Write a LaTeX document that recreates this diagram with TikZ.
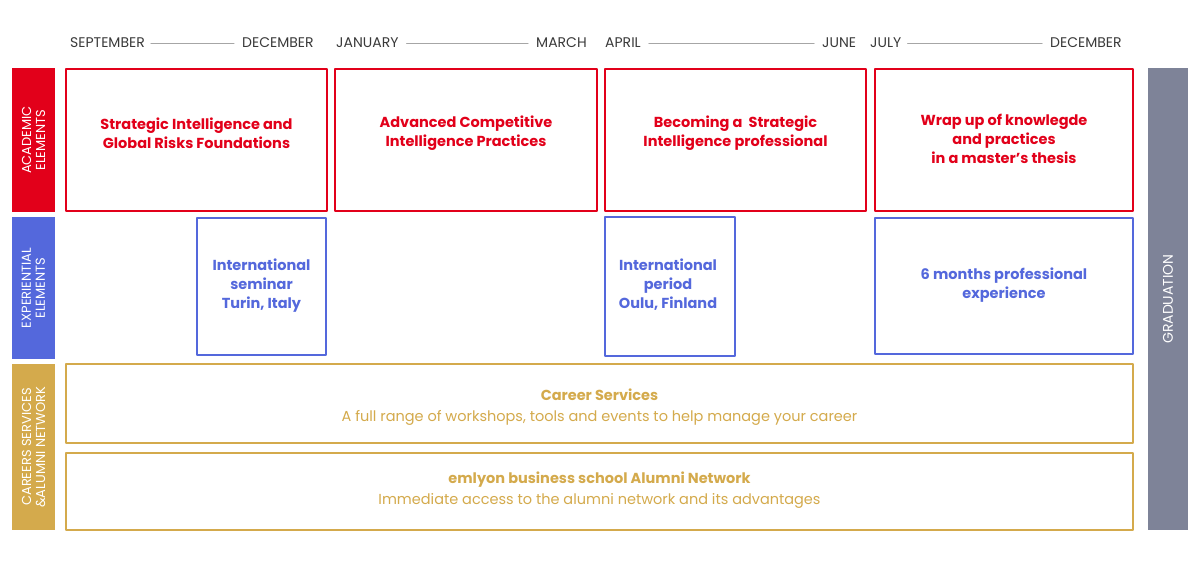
\documentclass[tikz,border=0pt]{standalone}
\usepackage{fontspec}
\setmainfont{Poppins}
\usetikzlibrary{positioning}
\definecolor{acared}{HTML}{E2001A}
\definecolor{expblue}{HTML}{5468DC}
\definecolor{cargold}{HTML}{D4AA4C}
\definecolor{gradgray}{HTML}{7E8398}
\definecolor{monthgray}{HTML}{3A3A3A}
\tikzset{
  month/.style={text=monthgray,font=\fontsize{14}{16}\selectfont,inner sep=0pt},
  monthline/.style={draw=gray!70,line width=1pt},
  acabox/.style={draw=acared,line width=1.5pt},
  expbox/.style={draw=expblue,line width=1.5pt},
  carbox/.style={draw=cargold,line width=1.5pt},
  acatext/.style={text=acared,font=\fontsize{14.5}{19}\selectfont\bfseries,align=center},
  exptext/.style={text=expblue,font=\fontsize{14.5}{19}\selectfont\bfseries,align=center},
  cartext/.style={text=cargold,font=\fontsize{14.5}{21}\selectfont,align=center},
  sidetext/.style={text=white,font=\fontsize{13}{14}\selectfont,align=center,rotate=90}
}
\begin{document}
\begin{tikzpicture}[line cap=round,line join=round,x=1pt,y=-1pt]
      \useasboundingbox[fill=white] (0,0) rectangle (1200,563);
      % months
      \node[month,anchor=west] (sep) at (70,43) {SEPTEMBER};
      \node[month,anchor=west] (dec1) at (242,43) {DECEMBER};
      \node[month,anchor=west] (jan) at (336,43) {JANUARY};
      \node[month,anchor=west] (mar) at (536,43) {MARCH};
      \node[month,anchor=west] (apr) at (605,43) {APRIL};
      \node[month,anchor=west] (jun) at (822,43) {JUNE};
      \node[month,anchor=west] (jul) at (870,43) {JULY};
      \node[month,anchor=west] (dec2) at (1050,43) {DECEMBER};
      \draw[monthline] ([xshift=6pt]sep.east) -- ([xshift=-8pt]dec1.west);
      \draw[monthline] ([xshift=8pt]jan.east) -- ([xshift=-8pt]mar.west);
      \draw[monthline] ([xshift=8pt]apr.east) -- ([xshift=-8pt]jun.west);
      \draw[monthline] ([xshift=6pt]jul.east) -- ([xshift=-8pt]dec2.west);

      % side bars
      \fill[acared] (12,68) rectangle (55,212);
      \fill[expblue] (12,217) rectangle (55,359);
      \fill[cargold] (12,364) rectangle (55,530);
      \fill[gradgray] (1148,68) rectangle (1188,530);
      \node[sidetext] (aca) at (33.5,140) {ACADEMIC\\ELEMENTS};
      \node[sidetext] (exp) at (33.5,288) {EXPERIENTIAL\\ELEMENTS};
      \node[sidetext] (car) at (33.5,447) {CAREERS SERVICES\\\&ALUMNI NETWORK};
      \node[sidetext,font=\fontsize{14}{16}\selectfont] (grad) at (1168,299) {GRADUATION};

      % academic
      \draw[acabox] (66,69) rectangle (327,211);
      \draw[acabox] (335,69) rectangle (597,211);
      \draw[acabox] (605,69) rectangle (866,211);
      \draw[acabox] (875,69) rectangle (1133,211);
      \node[acatext] (a1) at (196.5,133) {Strategic Intelligence and\\Global Risks Foundations};
      \node[acatext] (a2) at (466,133) {Advanced Competitive\\Intelligence Practices};
      \node[acatext] (a3) at (735.5,133) {Becoming a \ Strategic\\Intelligence professional};
      \node[acatext] (a4) at (1004,139) {Wrap up of knowlegde\\and practices\\in a master’s thesis};

      % experiential
      \draw[expbox] (197,218) rectangle (326,355);
      \draw[expbox] (605,217) rectangle (735,356);
      \draw[expbox] (875,218) rectangle (1133,354);
      \node[exptext] (e1) at (261.5,286) {International\\seminar\\Turin, Italy};
      \node[exptext] (e2) at (668,285) {International\\period\\Oulu, Finland};
      \node[exptext] (e3) at (1004,285) {6 months professional\\experience};

      % careers
      \draw[carbox] (66,364) rectangle (1133,443);
      \draw[carbox] (66,453) rectangle (1133,530);
      \node[cartext] (c1) at (599.5,407) {\textbf{Career Services}\\A full range of workshops, tools and events to help manage your career};
      \node[cartext] (c2) at (599.5,490) {\textbf{emlyon business school Alumni Network}\\Immediate access to the alumni network and its advantages};
    \end{tikzpicture}
\end{document}
